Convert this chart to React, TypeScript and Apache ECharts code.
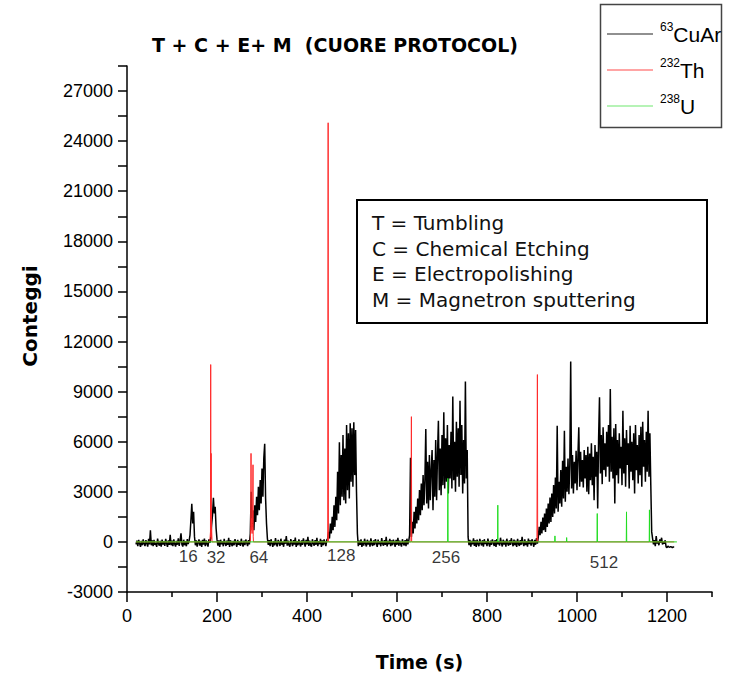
import React, { useEffect, useRef } from 'react';
import * as echarts from 'echarts';

// ---- data (time in s, counts) ----
const STEP = 2; // s between consecutive 63CuAr readings inside a segment

const baseline1Start = 20;
const baseline1 = [
  -150, 80, -250, 120, -100, -300, 60, -200, 150, -120,
  -250, 100, -80, -280, 180, -150, 700, -200, 90, -260,
  120, -180, -50, -300, 200, -100, -220, 60, -280, 140,
  -160, 30, -240, 180, -90, -300, 100, -180, 420, -200,
  80, -260, 150, -120, -280, 60, -170, 220, -240, 90,
  520, -150, -280, 130, -200, 40, -260, 170, -130, 60,
];
const pulse16Start = 140;
const pulse16 = [400, 1300, 2280, 1100, 1800, 300];
const baseline2Start = 152;
const baseline2 = [-200, 100, -280, -50, 150, -220, 60, -300, 120, -160, 200, -250, 80, -120, -280, 150, -60];
const pulse32Start = 186;
const pulse32 = [200, 1000, 1600, 2640, 1700, 2100, 800, 150];
const baseline3Start = 202;
const baseline3 = [
  -220, 90, -300, 130, -150, 40, -260, 180, -90, -240,
  70, -180, 250, -300, 100, -140, -260, 60, -200, 160,
  -80, -290, 120, -170, 30, -240, 190, -110, -280, 80,
  -190, 140, -60, -250, 110, -150,
];
const pulse64Start = 274;
const pulse64 = [
  500, 3000, 900, 1900, 700, 2200, 1200, 2700, 1600, 3300,
  1900, 3700, 2300, 4400, 2700, 5000, 5880, 2600, 1100, 200,
];
const baseline4Start = 314;
const baseline4 = [
  -180, 100, -260, 160, -90, -300, 50, -210, 230, -140,
  -270, 120, -60, -240, 190, -170, 20, -290, 140, -110,
  350, -230, 80, -190, -280, 170, -70, -250, 110, -160,
  260, -300, 40, -200, 150, -120, -270, 90, -180, 210,
  -60, -280, 130, -150, 300, -240, 70, -190, -290, 160,
  -100, -230, 110, -170, 240, -260, 50, -140, 180, -300,
  90, -200, 150, -80, -250, 120, 200,
];
const pulse128Start = 448;
const pulse128 = [
  600, 200, 1100, 500, 1500, 700, 2200, 900, 2700, 1300,
  4200, 1700, 5960, 2200, 5200, 2700, 6400, 2500, 5600, 2300,
  7000, 3100, 6500, 2600, 7100, 3600, 6800, 3300, 7160, 4000,
  6700, 3000, 500,
];
const baseline5Start = 514;
const baseline5 = [
  -250, 80, -180, 150, -300, 40, -220, 190, -110, -270,
  130, -160, 60, -290, 210, -130, -240, 90, -190, 170,
  -70, -300, 140, -150, 30, -260, 230, -100, -220, 110,
  -180, 300, -270, 60, -140, 180, -250, 90, -200, 140,
  -80, -290, 120, -170, 250, -230, 70, -130, -280, 160,
  -90, -210, 100, -260, 190, -150, 50,
];
const pulse256Start = 628;
const pulse256 = [
  400, 5040, 300, 1200, 500, 1800, 800, 2100, 1100, 2600,
  1300, 3100, 1600, 3500, 1900, 4000, 2200, 3700, 6760, 2300,
  4800, 2000, 5200, 2500, 4300, 5500, 1900, 4900, 2700, 6100,
  2500, 5200, 7260, 3100, 5600, 2800, 6400, 3400, 7760, 3200,
  6200, 3600, 7000, 2900, 5800, 3800, 6600, 3200, 8700, 3700,
  6000, 3000, 7200, 3900, 6800, 3300, 8460, 4000, 7000, 2900,
  6100, 3500, 9600, 3800, 5500, 300,
];
const baseline6Start = 760;
const baseline6 = [
  -200, 120, -280, 60, -150, 210, -240, 90, -300, 140,
  -120, -260, 180, -70, -210, 100, -290, 160, -130, 40,
  -250, 200, -100, -280, 80, -180, 150, -60, -240, 110,
  -300, 170, -140, 30, -220, 250, -90, -270, 130, -160,
  60, -290, 190, -110, -230, 90, -180, 220, -50, -260,
  140, -200, 70, -300, 180, -120, -240, 110, -170, 300,
  -80, -250, 150, -190, 40, -280, 200, -130, 90, -220,
  160, -60, -290, 120, -170, 230, -100,
];
const pulse512Start = 914;
const pulse512 = [
  300, 900, 400, 1200, 500, 1460, 700, 1700, 600, 2000,
  900, 2300, 1100, 2660, 1200, 2900, 1500, 3400, 1700, 3860,
  2000, 6960, 1800, 3600, 2300, 4300, 2100, 4860, 2600, 6660,
  2400, 4500, 3000, 5000, 2860, 4600, 10800, 3200, 5200, 2900,
  4800, 3500, 5460, 3100, 5100, 6860, 3300, 5400, 3600, 4900,
  3260, 5500, 3800, 5200, 3000, 5700, 2860, 5300, 3700, 5900,
  3400, 5100, 2500, 5800, 3900, 5400, 2000, 6200, 8660, 4100,
  6400, 3460, 6860, 4300, 5900, 3900, 6600, 4500, 7000, 3600,
  9160, 4200, 6300, 3800, 6800, 2300, 7060, 4000, 6100, 3500,
  6500, 4400, 5700, 3400, 7860, 4100, 6200, 3300, 6700, 4600,
  5900, 3200, 6960, 4200, 6000, 3700, 6500, 2900, 7000, 4300,
  5800, 3500, 6400, 4000, 6900, 3300, 7200, 4500, 6100, 3600,
  6600, 4200, 7860, 3900, 6500, 3400, 600,
];
const tailStart = 1168;
const tail = [200, -150, 100, -250, 350, -100, 50, -200, 150, -50, 250, -150, 0, -100, 100];
const stepStart = 1198;
const stepDown = [-300, -350, -250, -300, -320, -280, -300, -350, -300, -300];

const th232 = [
  [20, 0], [184, 0], [185.5, 600], [186, 10620], [186.5, 300], [187, 5300], [187.5, 200], [188, 800], [189, 0],
  [274, 0], [275, 900], [275.6, 5300], [276.2, 700], [277, 1400], [278, 500], [279, 1100], [280, 4620], [280.5, 300], [281, 0],
  [446, 0], [447, 25100], [447.6, 0],
  [631, 0], [632, 7500], [632.6, 0],
  [911, 0], [912, 10020], [912.6, 0],
  [1216, 0],
];

const u238 = [
  [20, 0], [712.5, 0], [713, 3800], [713.5, 0],
  [823.5, 0], [824, 2200], [824.5, 0],
  [950.5, 0], [951, 360], [951.5, 0],
  [976.5, 0], [977, 260], [977.5, 0],
  [1044.5, 0], [1045, 1700], [1045.5, 0],
  [1109.5, 0], [1110, 1800], [1110.5, 0],
  [1160.5, 0], [1161, 1920], [1161.5, 0],
  [1222, 0],
];

const peakLabels = [
  [136, -900, '16'],
  [198, -960, '32'],
  [293, -960, '64'],
  [476, -840, '128'],
  [709, -960, '256'],
  [1060, -1260, '512'],
];

const xMajorTicks = [0, 200, 400, 600, 800, 1000, 1200];
const xMinorTicks = [100, 300, 500, 700, 900, 1100, 1300];
const yLabelValues = [-3000, 0, 3000, 6000, 9000, 12000, 15000, 18000, 21000, 24000, 27000];

const legendItems = [
  { sup: '63', name: 'CuAr', color: '#222222' },
  { sup: '232', name: 'Th', color: '#ff4a4a' },
  { sup: '238', name: 'U', color: '#6fe86f' },
];
const noteLines = ['T = Tumbling', 'C = Chemical Etching', 'E = Electropolishing', 'M = Magnetron sputtering'];

const cuSegments: [number, number[]][] = [
  [baseline1Start, baseline1], [pulse16Start, pulse16], [baseline2Start, baseline2],
  [pulse32Start, pulse32], [baseline3Start, baseline3], [pulse64Start, pulse64],
  [baseline4Start, baseline4], [pulse128Start, pulse128], [baseline5Start, baseline5],
  [pulse256Start, pulse256], [baseline6Start, baseline6], [pulse512Start, pulse512],
  [tailStart, tail], [stepStart, stepDown],
];

export default function App() {
  const ref = useRef<HTMLDivElement>(null);
  useEffect(() => {
    const chart = echarts.init(ref.current!, null, { renderer: 'svg' });
    const cuData: number[][] = [];
    cuSegments.forEach(([start, vals]) => vals.forEach((v, i) => cuData.push([start + STEP * i, v])));

    const tickFont = { fontFamily: 'Liberation Sans', fontSize: 18, color: '#000' };
    const plain = (v: number) => String(v);
    const graphics: any[] = [
      {
        type: 'text', x: 335, y: 45,
        style: { text: 'T + C + E+ M  (CUORE PROTOCOL)', fontFamily: 'DejaVu Sans', fontWeight: 'bold', fontSize: 19, fill: '#000', align: 'center', verticalAlign: 'middle' },
      },
      {
        type: 'text', x: 30, y: 316, rotation: Math.PI / 2,
        style: { text: 'Conteggi', fontFamily: 'DejaVu Sans', fontWeight: 'bold', fontSize: 20, fill: '#000', align: 'center', verticalAlign: 'middle' },
      },
      {
        type: 'rect', shape: { x: 357, y: 200, width: 350, height: 123 },
        style: { fill: '#fff', stroke: '#000', lineWidth: 2 }, z: 10,
      },
      {
        type: 'rect', shape: { x: 600.5, y: 4.5, width: 121, height: 123 },
        style: { fill: '#fff', stroke: '#444', lineWidth: 1.5 }, z: 10,
      },
    ];
    noteLines.forEach((t, i) => {
      graphics.push({
        type: 'text', x: 372, y: 223 + i * 25.5, z: 11,
        style: { text: t, fontFamily: 'DejaVu Sans', fontSize: 20, fill: '#111', align: 'left', verticalAlign: 'middle' },
      });
    });
    legendItems.forEach((it, i) => {
      const y = 34 + i * 36;
      graphics.push({
        type: 'line', z: 11, shape: { x1: 607, y1: y, x2: 653, y2: y },
        style: { stroke: it.color, lineWidth: 1.2 },
      });
      graphics.push({
        type: 'text', x: 660, y: y - 1, z: 11,
        style: {
          text: `{s|${it.sup}}{m|${it.name}}`,
          align: 'left', verticalAlign: 'middle',
          rich: {
            s: { fontFamily: 'Liberation Sans', fontSize: 12, fill: '#000', verticalAlign: 'top', lineHeight: 24 },
            m: { fontFamily: 'Liberation Sans', fontSize: 21, fill: '#000', verticalAlign: 'bottom', lineHeight: 24 },
          },
        },
      });
    });

    chart.setOption({
      animation: false,
      backgroundColor: '#fff',
      grid: { left: 127, right: 20, top: 66, bottom: 81, containLabel: false, outerBoundsMode: 'none' },
      xAxis: [
        {
          type: 'value', min: 0, max: 1300, interval: 100,
          name: 'Time (s)', nameLocation: 'middle', nameGap: 60,
          nameTextStyle: { fontFamily: 'DejaVu Sans', fontWeight: 'bold', fontSize: 19, color: '#000' },
          axisLine: { show: true, onZero: false, lineStyle: { color: '#000', width: 1.5 } },
          axisTick: { show: true, length: 10, customValues: xMajorTicks, lineStyle: { color: '#000', width: 1.5 } },
          axisLabel: { ...tickFont, margin: 15, customValues: xMajorTicks, formatter: plain },
          splitLine: { show: false },
        },
        {
          type: 'value', min: 0, max: 1300, interval: 100, position: 'bottom',
          axisLine: { show: false, onZero: false },
          axisTick: { show: true, length: 5, customValues: xMinorTicks, lineStyle: { color: '#000', width: 1.5 } },
          axisLabel: { show: false },
          splitLine: { show: false },
        },
      ],
      yAxis: {
        type: 'value', min: -3000, max: 28500, interval: 1500,
        axisLine: { show: true, onZero: false, lineStyle: { color: '#000', width: 1.5 } },
        axisTick: { show: true, length: 9, lineStyle: { color: '#000', width: 1.5 } },
        axisLabel: { ...tickFont, margin: 14, customValues: yLabelValues, formatter: plain },
        splitLine: { show: false },
      },
      graphic: graphics,
      series: [
        {
          name: '63CuAr', type: 'line', data: cuData, showSymbol: false, symbol: 'none',
          lineStyle: { color: '#000', width: 1.5 }, z: 2, silent: true,
        },
        {
          name: '232Th', type: 'line', data: th232, showSymbol: false, symbol: 'none',
          lineStyle: { color: '#ff2a2a', width: 1 }, z: 3, silent: true,
        },
        {
          name: '238U', type: 'line', data: u238, showSymbol: false, symbol: 'none',
          lineStyle: { color: '#22dd22', width: 1 }, z: 4, silent: true,
        },
        {
          name: 'labels', type: 'scatter', data: peakLabels, symbolSize: 1,
          itemStyle: { color: 'rgba(0,0,0,0)' }, silent: true, z: 5,
          label: {
            show: true, position: 'inside', formatter: (p: any) => p.value[2],
            fontFamily: 'Liberation Sans', fontSize: 17, color: '#000',
          },
        },
      ],
    });
    return () => chart.dispose();
  }, []);
  return <div ref={ref} style={{ position: 'absolute', left: 0, top: 0, width: 732, height: 673 }} />;
}
